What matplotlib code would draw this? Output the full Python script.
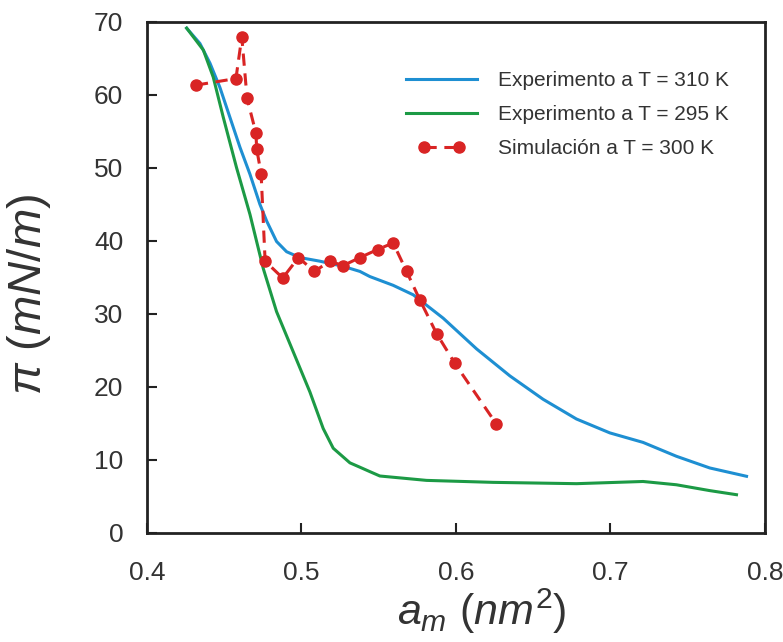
import matplotlib
matplotlib.use("Agg")
import matplotlib.pyplot as plt
from matplotlib.legend_handler import HandlerLine2D

# Data
blue_x = [0.4257, 0.4343, 0.4408, 0.4472, 0.4537, 0.4602, 0.4667, 0.4731, 0.4775, 0.4839,
          0.4904, 0.499, 0.512, 0.527, 0.5379, 0.5443, 0.5594, 0.5724, 0.5918, 0.6134,
          0.635, 0.6565, 0.6781, 0.6997, 0.7212, 0.7428, 0.7644, 0.7882]
blue_y = [69.1, 67.0, 64.3, 61.0, 56.9, 52.8, 49.1, 45.0, 42.7, 39.9,
          38.5, 37.7, 37.2, 36.5, 35.8, 35.1, 33.9, 32.6, 29.4, 25.2,
          21.5, 18.3, 15.6, 13.7, 12.4, 10.5, 8.9, 7.76]

green_x = [0.4257, 0.4365, 0.4429, 0.4494, 0.458, 0.4667, 0.4753, 0.4839, 0.4947, 0.5055,
           0.5141, 0.5206, 0.5314, 0.5379, 0.5443, 0.5508, 0.581, 0.6241, 0.6781, 0.7212,
           0.7428, 0.7644, 0.7817]
green_y = [69.1, 66.1, 62.4, 56.9, 50.0, 43.6, 36.2, 30.3, 24.8, 19.3,
           14.3, 11.6, 9.6, 9.0, 8.4, 7.8, 7.2, 6.93, 6.75, 7.05,
           6.6, 5.8, 5.24]

sim_x = [0.4317, 0.4576, 0.4614, 0.4648, 0.4706, 0.471, 0.4739, 0.4765, 0.4879, 0.4981,
         0.5084, 0.5184, 0.527, 0.5379, 0.5493, 0.5594, 0.5681, 0.5767, 0.5875, 0.5994,
         0.6263]
sim_y = [61.3, 62.2, 67.9, 59.5, 54.7, 52.6, 49.2, 37.2, 34.9, 37.7,
         35.8, 37.2, 36.6, 37.7, 38.8, 39.7, 35.8, 31.9, 27.3, 23.2,
         14.9]

labels = ["Experimento a T = 310 K", "Experimento a T = 295 K", "Simulación a T = 300 K"]
xticks = [0.4, 0.5, 0.6, 0.7, 0.8]
yticks = [0, 10, 20, 30, 40, 50, 60, 70]

plt.rcParams['font.family'] = ['Liberation Sans', 'DejaVu Sans']
plt.rcParams['mathtext.fontset'] = 'custom'
plt.rcParams['mathtext.rm'] = 'Liberation Sans'
plt.rcParams['mathtext.it'] = 'Liberation Sans:italic'

fig = plt.figure(figsize=(7.83, 6.42), dpi=100)
ax = fig.add_axes([0.1877, 0.1698, 0.789, 0.7966])

ax.plot(blue_x, blue_y, color='#1e8fd2', lw=2.2, label=labels[0])
ax.plot(green_x, green_y, color='#1c9a45', lw=2.2, label=labels[1])
sim_line, = ax.plot(sim_x, sim_y, color='#d92424', lw=2.2, ls=(0, (4, 2.5)),
                    marker='o', ms=8, label=labels[2])

ax.set_xlim(0.4, 0.8)
ax.set_ylim(0, 70)
ax.set_xticks(xticks)
ax.set_xticklabels([f"{t:.1f}" for t in xticks])
ax.set_yticks(yticks)
ax.tick_params(direction='in', length=7, width=1.5, labelsize=19, color='#222222',
               labelcolor='#333333')
ax.tick_params(axis='x', pad=20)
ax.tick_params(axis='y', pad=17)
for s in ax.spines.values():
    s.set_linewidth(2)
    s.set_color('#222222')

ax.set_xlabel(r'$a_m\ (nm^2)$', fontsize=31, color='#333333')
ax.set_ylabel(r'$\pi\ (mN/m)$', fontsize=34, color='#333333')
ax.xaxis.set_label_coords(0.542, -0.105)
ax.yaxis.set_label_coords(-0.152, 0.466)

leg = ax.legend(loc='upper right', frameon=False, fontsize=15, handlelength=3.4,
                handletextpad=1.0, labelspacing=0.72,
                handler_map={sim_line: HandlerLine2D(numpoints=2, marker_pad=0.85)},
                bbox_to_anchor=(0.972, 0.94))
for t in leg.get_texts():
    t.set_color('#333333')

fig.savefig('out.png', dpi=100)
